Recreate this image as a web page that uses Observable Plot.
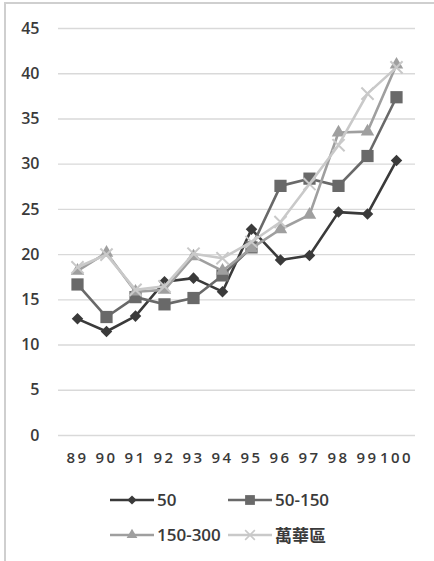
<!DOCTYPE html>
<html>
<head>
<meta charset="utf-8">
<script src="https://cdn.jsdelivr.net/npm/d3@7"></script>
<script src="https://cdn.jsdelivr.net/npm/@observablehq/plot@0.6"></script>
<style>
  html, body { margin: 0; padding: 0; background: #fff; }
  #page { position: relative; width: 434px; height: 561px; overflow: hidden; }
  #frame { position: absolute; left: 4px; top: 2px; right: -4px; bottom: -4px;
           border-left: 2px solid #cfcfcf; border-top: 2px solid #cfcfcf; }
  #chart { position: absolute; left: 0; top: 0; }
  #chart svg text { font-family: "Open Sans", "DejaVu Sans", sans-serif; font-weight: 600; fill: #3a3a3a; }
  #chart svg [aria-label="x-axis tick label"] text { letter-spacing: 2.5px; }
  #legend { position: absolute; left: 110px; top: 490px; display: grid;
            grid-template-columns: 118px 118px; row-gap: 16px;
            font-family: "Open Sans", "Noto Sans CJK TC", sans-serif; font-weight: 600;
            font-size: 17px; color: #3a3a3a; }
  .item { display: flex; align-items: center; height: 19px; white-space: nowrap; }
  .item svg { margin-right: 3px; }
</style>
</head>
<body>
<div id="page">
  <div id="frame"></div>
  <div id="chart"></div>
  <div id="legend"></div>
</div>
<script>
// School years (ROC calendar)
const years = ["89", "90", "91", "92", "93", "94", "95", "96", "97", "98", "99", "100"];

// Series
const seriesNames = ["50", "50-150", "150-300", "萬華區"];
const values50 = [12.9, 11.5, 13.2, 17.0, 17.4, 15.9, 22.8, 19.4, 19.9, 24.7, 24.5, 30.4];
const values50to150 = [16.7, 13.1, 15.3, 14.5, 15.2, 17.7, 20.8, 27.6, 28.4, 27.6, 30.9, 37.4];
const values150to300 = [18.2, 20.2, 15.9, 16.1, 19.8, 18.2, 20.7, 22.8, 24.4, 33.5, 33.6, 41.0];
const valuesWanhua = [18.6, 20.0, 16.1, 16.5, 20.1, 19.6, 21.4, 23.6, 27.8, 32.1, 37.8, 40.7];

// Y-axis ticks
const yTicks = [0, 5, 10, 15, 20, 25, 30, 35, 40, 45];

// Styling per series
const seriesValues = [values50, values50to150, values150to300, valuesWanhua];
const seriesColors = ["#3a3a3a", "#696969", "#9f9f9f", "#c9c9c9"];
const seriesSymbols = ["diamond2", "square", "triangle", "times"];
const seriesR = [5.2, 6.9, 5.0, 5.6];

const rows = seriesNames.flatMap((name, s) =>
  years.map((year, i) => ({ series: name, year, value: seriesValues[s][i] }))
);

const seriesMarks = seriesNames.flatMap((name, s) => {
  const data = rows.filter(d => d.series === name);
  const isStroke = seriesSymbols[s] === "times";
  return [
    Plot.lineY(data, { x: "year", y: "value", stroke: seriesColors[s], strokeWidth: 2.6 }),
    Plot.dot(data, {
      x: "year", y: "value", symbol: seriesSymbols[s], r: seriesR[s],
      fill: isStroke ? "none" : seriesColors[s],
      stroke: isStroke ? seriesColors[s] : "none",
      strokeWidth: isStroke ? 2 : 0
    })
  ];
});

const chart = Plot.plot({
  width: 434,
  height: 480,
  marginLeft: 58,
  marginRight: 19,
  marginTop: 28,
  marginBottom: 45,
  style: { fontSize: "15px", background: "transparent" },
  x: { type: "point", domain: years, padding: 0.5, label: null },
  y: { domain: [0, 45], label: null },
  marks: [
    Plot.gridY(yTicks, { stroke: "#d9d9d9", strokeOpacity: 1, strokeWidth: 1.4 }),
    Plot.axisY(yTicks, { tickSize: 0, tickPadding: 19, label: null, fontSize: 16 }),
    Plot.axisX({ tickSize: 0, tickPadding: 17, label: null, fontSize: 15 }),
    ...seriesMarks
  ]
});
document.getElementById("chart").appendChild(chart);

// Legend: line swatch with the series symbol, then the name
const legend = d3.select("#legend");
seriesNames.forEach((name, s) => {
  const item = legend.append("div").attr("class", "item");
  const sw = item.append("svg").attr("width", 44).attr("height", 18);
  sw.append("line").attr("x1", 0).attr("x2", 44).attr("y1", 9).attr("y2", 9)
    .attr("stroke", seriesColors[s]).attr("stroke-width", 2.6);
  const symType = { diamond2: d3.symbolDiamond2, square: d3.symbolSquare, triangle: d3.symbolTriangle, times: d3.symbolTimes }[seriesSymbols[s]];
  const isStroke = seriesSymbols[s] === "times";
  sw.append("path")
    .attr("transform", "translate(22,9)")
    .attr("d", d3.symbol(symType, Math.PI * (seriesR[s] * 0.8) ** 2)())
    .attr("fill", isStroke ? "none" : seriesColors[s])
    .attr("stroke", isStroke ? seriesColors[s] : "none")
    .attr("stroke-width", 1.6);
  item.append("span").text(name);
});
</script>
</body>
</html>
